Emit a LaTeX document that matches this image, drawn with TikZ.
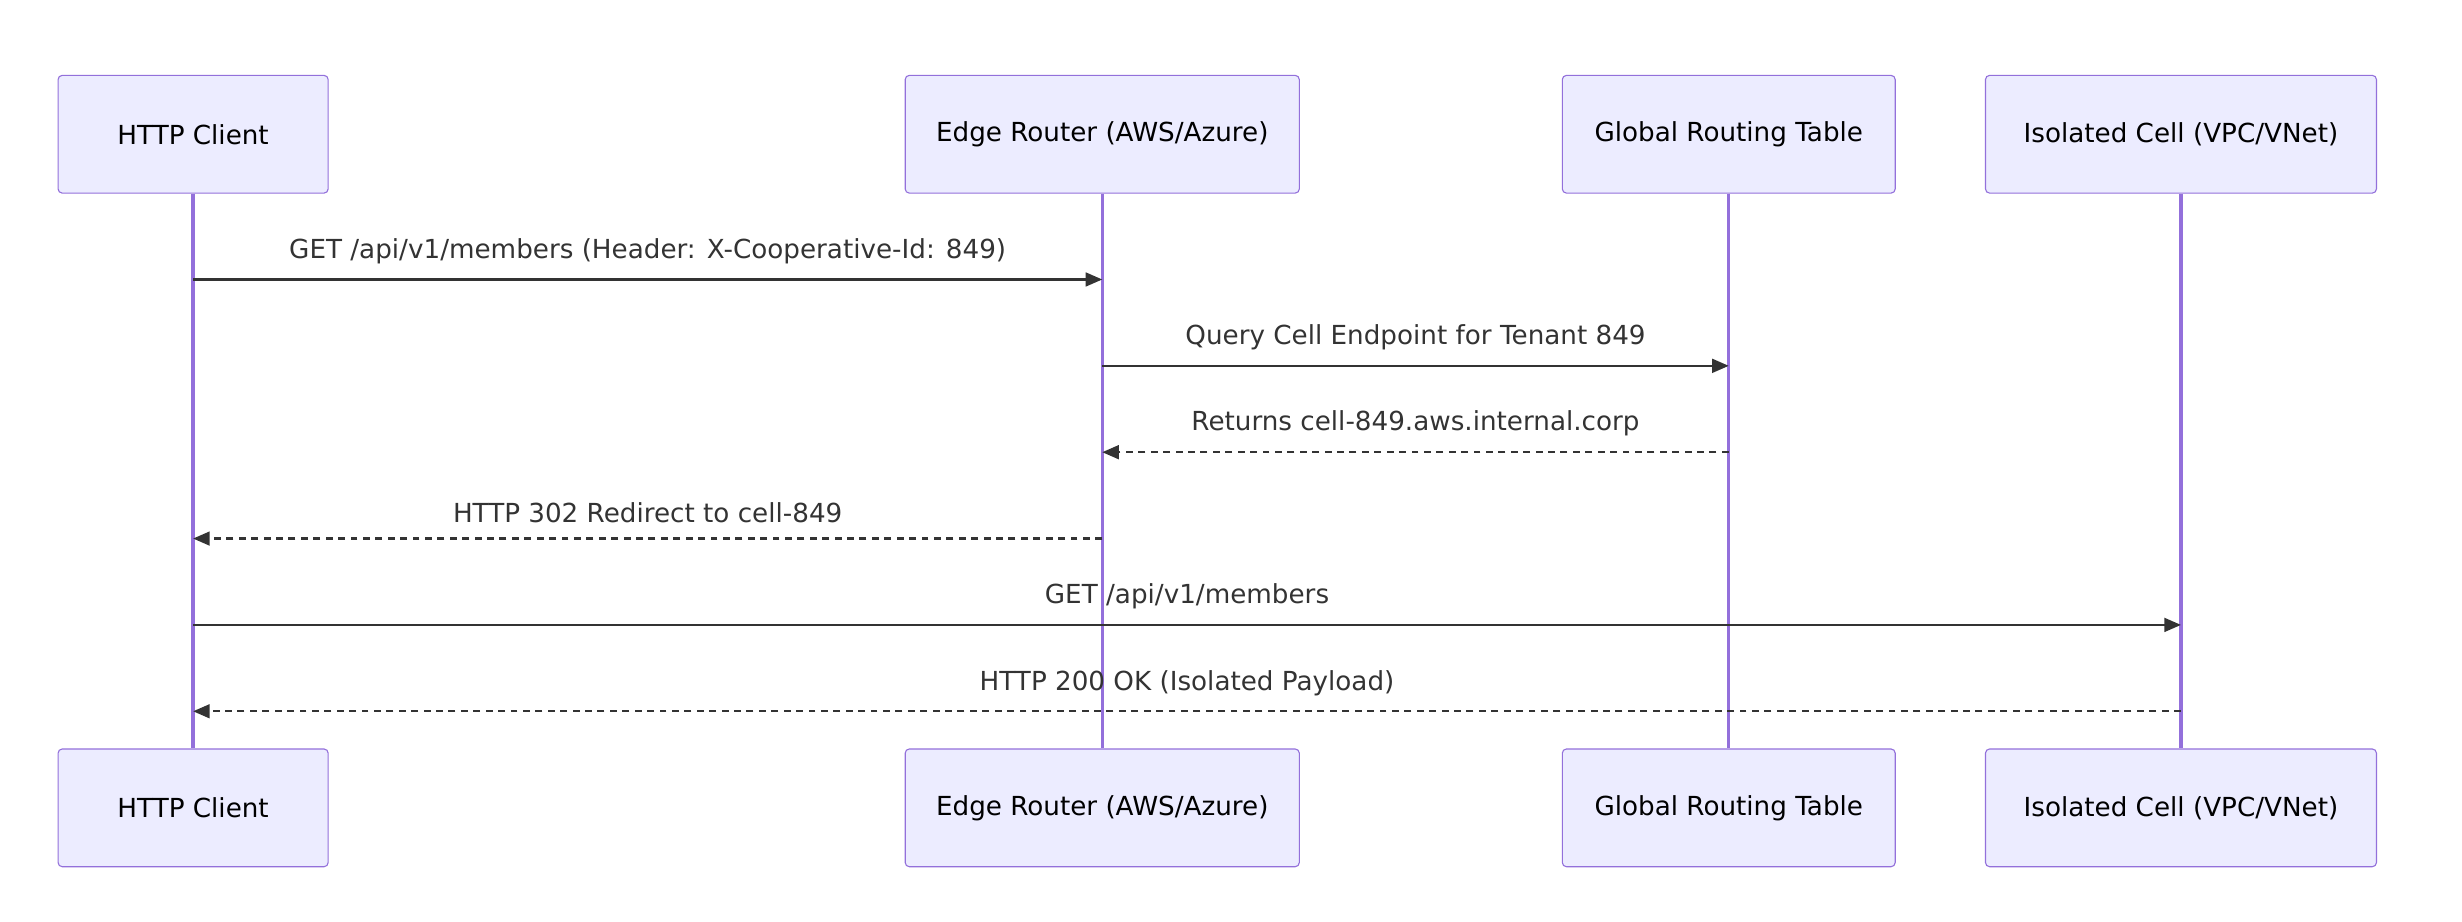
\documentclass[tikz,border=0pt]{standalone}
\usepackage{fontspec}
\setmainfont{DejaVu Sans}
\usetikzlibrary{arrows.meta}
\definecolor{boxfill}{HTML}{ECECFF}
\definecolor{boxline}{HTML}{9370DB}
\definecolor{msgline}{HTML}{333333}
\begin{document}
\begin{tikzpicture}[x=0.02cm,y=-0.02cm,
  actor/.style={draw=boxline,fill=boxfill,rounded corners=1.5pt,minimum height=1.5cm,font=\fontsize{9.5}{11}\selectfont},
  life/.style={boxline,line width=1.2pt},
  msg/.style={msgline,line width=0.8pt,-{Triangle[length=6pt,width=5pt]}},
  reply/.style={msg,dash pattern=on 2.5pt off 2pt},
  lbl/.style={font=\fontsize{9.5}{11}\selectfont,text=msgline,above=2pt}]
\useasboundingbox (0,0) rectangle (1568,587);
% actors, top and bottom
\foreach \n/\x/\w/\t in {cl/123/172/{HTTP Client}, er/702/251/{Edge Router (AWS/Azure)},
    gt/1101/212/{Global Routing Table}, ic/1389/249/{Isolated Cell (VPC/VNet)}} {
  \node[actor,minimum width=\w*0.02cm] (\n top) at (\x,85.5) {\t};
  \node[actor,minimum width=\w*0.02cm] (\n bot) at (\x,514.5) {\t};
}
% lifelines
\foreach \n in {cl,er,gt,ic}
  \draw[life] (\n top) -- (\n bot);
% message end points
\foreach \n/\x in {cl/123,er/702,gt/1101,ic/1389}
  \foreach \i/\y in {1/178,2/233,3/288,4/343,5/398,6/453}
    \coordinate (\n\i) at (\x,\y);
% messages
\draw[msg] (cl1) -- node[lbl] {GET /api/v1/members (Header: X-Cooperative-Id: 849)} (er1);
\draw[msg] (er2) -- node[lbl] {Query Cell Endpoint for Tenant 849} (gt2);
\draw[reply] (gt3) -- node[lbl] {Returns cell-849.aws.internal.corp} (er3);
\draw[reply] (er4) -- node[lbl] {HTTP 302 Redirect to cell-849} (cl4);
\draw[msg] (cl5) -- node[lbl] {GET /api/v1/members} (ic5);
\draw[reply] (ic6) -- node[lbl] {HTTP 200 OK (Isolated Payload)} (cl6);
\end{tikzpicture}
\end{document}
